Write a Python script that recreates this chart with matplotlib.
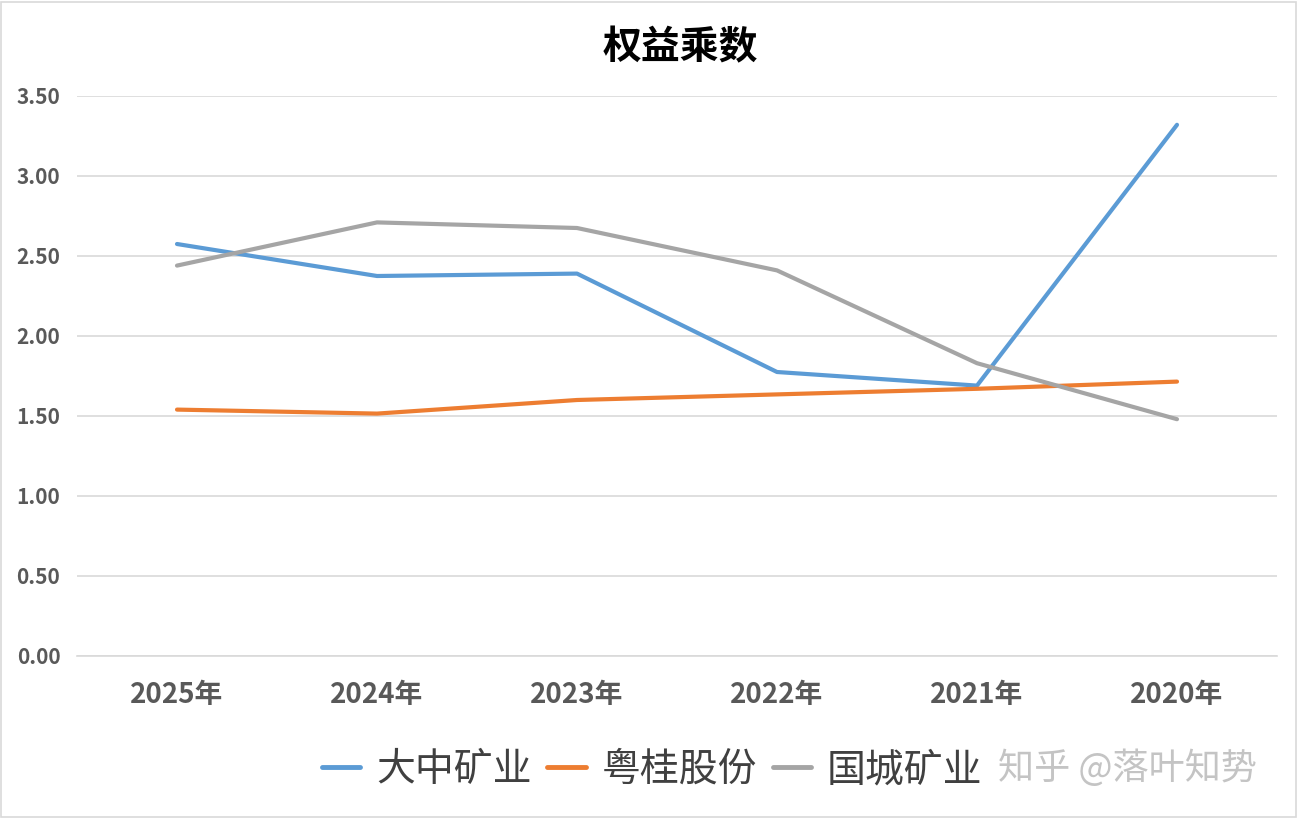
import matplotlib
matplotlib.use("Agg")
import matplotlib.pyplot as plt
from matplotlib.patches import Rectangle

plt.rcParams['font.family'] = ['Noto Sans CJK SC', 'DejaVu Sans']

years = ["2025年", "2024年", "2023年", "2022年", "2021年", "2020年"]
dazhong = [2.575, 2.375, 2.39, 1.775, 1.69, 3.32]
yuegui = [1.54, 1.515, 1.60, 1.635, 1.67, 1.715]
guocheng = [2.44, 2.71, 2.675, 2.41, 1.83, 1.48]
series_names = ["大中矿业", "粤桂股份", "国城矿业"]
colors = ["#5B9BD5", "#ED7D31", "#A5A5A5"]
yticks = [0.0, 0.5, 1.0, 1.5, 2.0, 2.5, 3.0, 3.5]

W, H = 1298, 818
fig = plt.figure(figsize=(W / 100, H / 100), dpi=100)
ax = fig.add_axes([77 / W, (H - 656) / H, 1200 / W, 560 / H])

x = list(range(len(years)))
for vals, name, c in zip([dazhong, yuegui, guocheng], series_names, colors):
    ax.plot(x, vals, color=c, lw=3.0, label=name, solid_capstyle='round', solid_joinstyle='round')

ax.set_xlim(-0.5, len(years) - 0.5)
ax.set_ylim(0, 3.5)
ax.set_yticks(yticks)
ax.set_yticklabels([f"{v:.2f}" for v in yticks])
ax.set_xticks(x)
ax.set_xticklabels(years)
ax.grid(axis='y', color='#D9D9D9', lw=1.2)
ax.set_axisbelow(True)
for s in ax.spines.values():
    s.set_visible(False)
ax.spines['bottom'].set_visible(True)
ax.spines['bottom'].set_color('#D9D9D9')
ax.spines['bottom'].set_linewidth(1.2)
ax.tick_params(axis='both', length=0)
ax.tick_params(axis='y', pad=12, labelsize=15, labelcolor='#595959')
ax.tick_params(axis='x', pad=18, labelsize=20, labelcolor='#595959')
for lab in ax.get_yticklabels() + ax.get_xticklabels():
    lab.set_fontweight('bold')

fig.text(680 / W, 1 - 48 / H, "权益乘数", ha='center', va='center', fontsize=28,
         fontweight='bold', color='#000000')

leg = fig.legend(loc='center', bbox_to_anchor=(652 / W, 1 - 770 / H), ncol=3, frameon=False,
                 fontsize=28, handlelength=1.0, handletextpad=0.4, columnspacing=0.4)
for t in leg.get_texts():
    t.set_color('#404040')
for h in leg.get_lines():
    h.set_linewidth(3.5)

fig.text(1127 / W, 1 - 768 / H, "知乎 @落叶知势", ha='center', va='center', fontsize=26,
         color='#C4C4C4')

fig.patches.append(Rectangle((1 / W, 1 / H), (W - 3) / W, (H - 3) / H, transform=fig.transFigure,
                             fill=False, edgecolor='#D9D9D9', lw=1.2))

fig.savefig("out.png", dpi=100)
